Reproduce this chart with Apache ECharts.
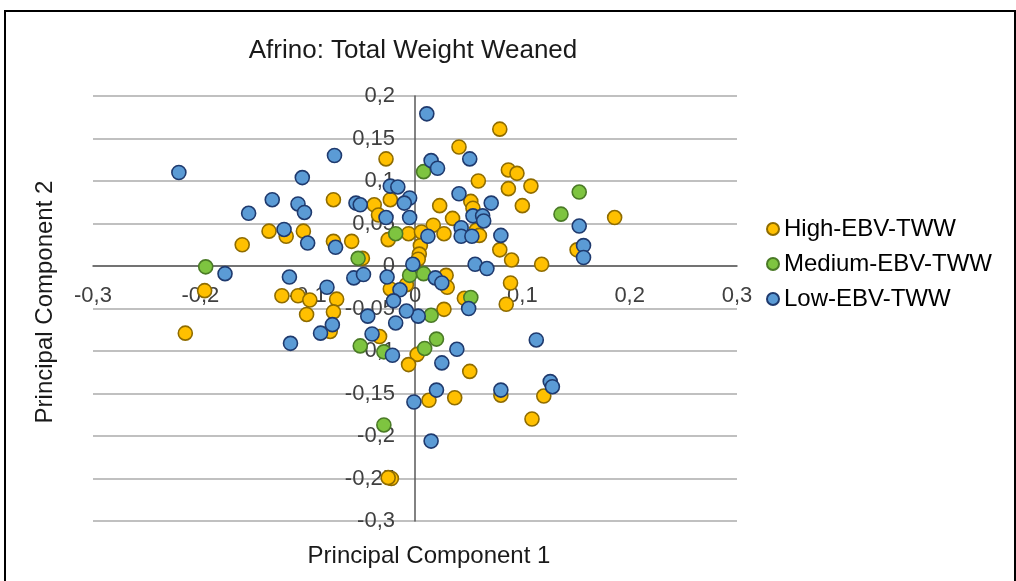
<!DOCTYPE html>
<html>
<head>
<meta charset="utf-8">
<title>Afrino: Total Weight Weaned</title>
<script src="https://cdn.jsdelivr.net/npm/echarts@6/dist/echarts.min.js"></script>
<style>
  html, body { margin: 0; padding: 0; background: #ffffff; }
  #chart { width: 1016px; height: 581px; }
</style>
</head>
<body>
<div id="chart"></div>
<script>
// PCA scores (PC1, PC2) per animal, grouped by EBV class for total weight weaned
const highEBV = [
  [0.079, 0.161], [0.041, 0.140], [-0.027, 0.126], [0.087, 0.113], [0.095, 0.109],
  [0.059, 0.100], [0.087, 0.091], [0.108, 0.094], [0.100, 0.071], [0.186, 0.057],
  [-0.076, 0.078], [-0.023, 0.078], [-0.038, 0.072], [0.052, 0.076], [0.023, 0.071],
  [0.054, 0.068], [-0.034, 0.060], [0.035, 0.056], [0.017, 0.048], [-0.104, 0.041],
  [-0.136, 0.041], [-0.120, 0.035], [0.057, 0.042], [-0.006, 0.038], [0.006, 0.040],
  [0.027, 0.038], [0.060, 0.036], [-0.076, 0.029], [-0.059, 0.029], [-0.025, 0.031],
  [-0.161, 0.025], [0.005, 0.024], [0.004, 0.014], [0.003, 0.008], [-0.049, 0.009],
  [0.079, 0.019], [0.090, 0.007], [0.118, 0.002], [0.151, 0.019], [-0.196, -0.029],
  [-0.214, -0.079], [-0.124, -0.035], [-0.109, -0.035], [-0.098, -0.040], [-0.101, -0.057],
  [-0.073, -0.039], [-0.076, -0.054], [-0.079, -0.077], [0.029, -0.011], [0.030, -0.025],
  [0.089, -0.020], [-0.023, -0.027], [-0.008, -0.022], [0.046, -0.038], [0.085, -0.045],
  [0.027, -0.051], [-0.033, -0.083], [0.002, -0.104], [-0.006, -0.116], [0.051, -0.124],
  [0.013, -0.158], [0.037, -0.155], [0.080, -0.152], [0.120, -0.153], [0.109, -0.180],
  [-0.022, -0.250], [-0.025, -0.249]
];
const mediumEBV = [
  [0.008, 0.111], [0.153, 0.087], [0.136, 0.061], [-0.018, 0.038], [-0.053, 0.009],
  [-0.195, -0.001], [-0.005, -0.011], [0.008, -0.009], [0.052, -0.037], [0.015, -0.058],
  [0.020, -0.086], [-0.051, -0.094], [-0.029, -0.101], [0.009, -0.097], [-0.029, -0.187]
];
const lowEBV = [
  [-0.220, 0.110], [-0.075, 0.130], [-0.105, 0.104], [-0.133, 0.078], [-0.155, 0.062],
  [-0.109, 0.073], [-0.103, 0.063], [-0.122, 0.043], [-0.100, 0.027], [0.011, 0.179],
  [0.051, 0.126], [0.015, 0.124], [0.021, 0.115], [-0.023, 0.094], [-0.016, 0.093],
  [-0.005, 0.080], [-0.010, 0.074], [-0.055, 0.074], [-0.051, 0.072], [0.041, 0.085],
  [0.071, 0.074], [-0.027, 0.057], [-0.005, 0.057], [0.054, 0.059], [0.063, 0.059],
  [0.064, 0.053], [0.043, 0.045], [0.012, 0.035], [0.043, 0.035], [0.053, 0.035],
  [0.080, 0.036], [0.153, 0.047], [0.157, 0.024], [0.157, 0.010], [-0.074, 0.022],
  [-0.002, 0.002], [0.056, 0.002], [0.067, -0.003], [-0.177, -0.009], [-0.117, -0.013],
  [-0.057, -0.014], [-0.048, -0.010], [-0.026, -0.013], [0.019, -0.014], [0.025, -0.020],
  [-0.082, -0.025], [-0.014, -0.028], [-0.020, -0.041], [0.050, -0.050], [0.003, -0.059],
  [-0.008, -0.053], [-0.044, -0.059], [-0.018, -0.067], [-0.077, -0.069], [-0.088, -0.079],
  [-0.040, -0.080], [-0.116, -0.091], [-0.021, -0.105], [0.039, -0.098], [0.025, -0.114],
  [0.113, -0.087], [0.126, -0.136], [0.128, -0.142], [0.020, -0.146], [-0.001, -0.160],
  [0.080, -0.146], [0.015, -0.206]
];

const seriesNames = ['High-EBV-TWW', 'Medium-EBV-TWW', 'Low-EBV-TWW'];

// Axis ranges and tick labels (decimal comma)
const xMin = -0.3, xMax = 0.3, xStep = 0.1;
const yMin = -0.3, yMax = 0.2, yStep = 0.05;
const xTickLabels = ['-0,3', '-0,2', '-0,1', '0', '0,1', '0,2', '0,3'];
const yTickLabels = ['-0,3', '-0,25', '-0,2', '-0,15', '-0,1', '-0,05', '0', '0,05', '0,1', '0,15', '0,2'];

const FONT = '"Liberation Sans", Arial, sans-serif';
const W = 1016, H = 581;
const GRID = { left: 93, right: 279, top: 96, bottom: 60 };
const gridW = W - GRID.left - GRID.right;
const gridH = H - GRID.top - GRID.bottom;

// Both axes cross at the origin; shift them inwards so labels sit beside the crossing lines
const yAxisShift = (0 - xMin) / (xMax - xMin) * gridW;
const xAxisShift = (0 - yMin) / (yMax - yMin) * gridH;

const chart = echarts.init(document.getElementById('chart'), null, { renderer: 'canvas' });

function markerStyle(fill, border) {
  return { color: fill, borderColor: border, borderWidth: 1.6, opacity: 1 };
}

chart.setOption({
  backgroundColor: '#ffffff',
  animation: false,
  textStyle: { fontFamily: FONT },
  title: {
    text: 'Afrino: Total Weight Weaned',
    left: 408,
    top: 33,
    textAlign: 'center',
    textStyle: { fontFamily: FONT, fontSize: 26, fontWeight: 'normal', color: '#1a1a1a' }
  },
  legend: {
    orient: 'vertical',
    left: 761,
    top: 212,
    itemWidth: 12,
    itemHeight: 12,
    itemGap: 11,
    icon: 'circle',
    data: seriesNames,
    textStyle: { fontFamily: FONT, fontSize: 24, color: '#000000', lineHeight: 24 }
  },
  grid: { left: GRID.left, right: GRID.right, top: GRID.top, bottom: GRID.bottom, containLabel: false },
  xAxis: {
    type: 'value',
    position: 'bottom',
    offset: -xAxisShift,
    min: xMin, max: xMax, interval: xStep,
    axisLine: { show: true, onZero: false, lineStyle: { color: '#595959', width: 1.5 } },
    axisTick: { show: false },
    splitLine: { show: false },
    axisLabel: {
      margin: 19,
      fontFamily: FONT, fontSize: 22, color: '#404040',
      formatter: v => xTickLabels[Math.round((v - xMin) / xStep)]
    }
  },
  yAxis: {
    type: 'value',
    position: 'left',
    offset: -yAxisShift,
    min: yMin, max: yMax, interval: yStep,
    axisLine: { show: true, onZero: false, lineStyle: { color: '#595959', width: 1.5 } },
    axisTick: { show: false },
    splitLine: { show: true, lineStyle: { color: '#c0c0c0', width: 2 } },
    axisLabel: {
      margin: 20,
      fontFamily: FONT, fontSize: 22, color: '#404040',
      formatter: v => yTickLabels[Math.round((v - yMin) / yStep)]
    }
  },
  graphic: [
    {
      type: 'rect',
      shape: { x: 5, y: 11, width: 1010, height: 600 },
      style: { fill: 'none', stroke: '#000000', lineWidth: 2 },
      silent: true, z: 100
    },
    {
      type: 'text',
      x: 429, y: 556,
      style: {
        text: 'Principal Component 1',
        fontFamily: FONT, fontSize: 24, fill: '#1a1a1a',
        textAlign: 'center', textVerticalAlign: 'middle'
      }
    },
    {
      type: 'text',
      x: 45, y: 302,
      rotation: Math.PI / 2,
      style: {
        text: 'Principal Component 2',
        fontFamily: FONT, fontSize: 24, fill: '#1a1a1a',
        textAlign: 'center', textVerticalAlign: 'middle'
      }
    }
  ],
  series: [
    {
      name: seriesNames[0], type: 'scatter', symbol: 'circle', symbolSize: 14,
      itemStyle: markerStyle('#ffc000', '#8f6c00'),
      data: highEBV, z: 2
    },
    {
      name: seriesNames[1], type: 'scatter', symbol: 'circle', symbolSize: 14,
      itemStyle: markerStyle('#7ec440', '#4a7a26'),
      data: mediumEBV, z: 3
    },
    {
      name: seriesNames[2], type: 'scatter', symbol: 'circle', symbolSize: 14,
      itemStyle: markerStyle('#5b9bd5', '#1f3a6e'),
      data: lowEBV, z: 4
    }
  ]
});
</script>
</body>
</html>
